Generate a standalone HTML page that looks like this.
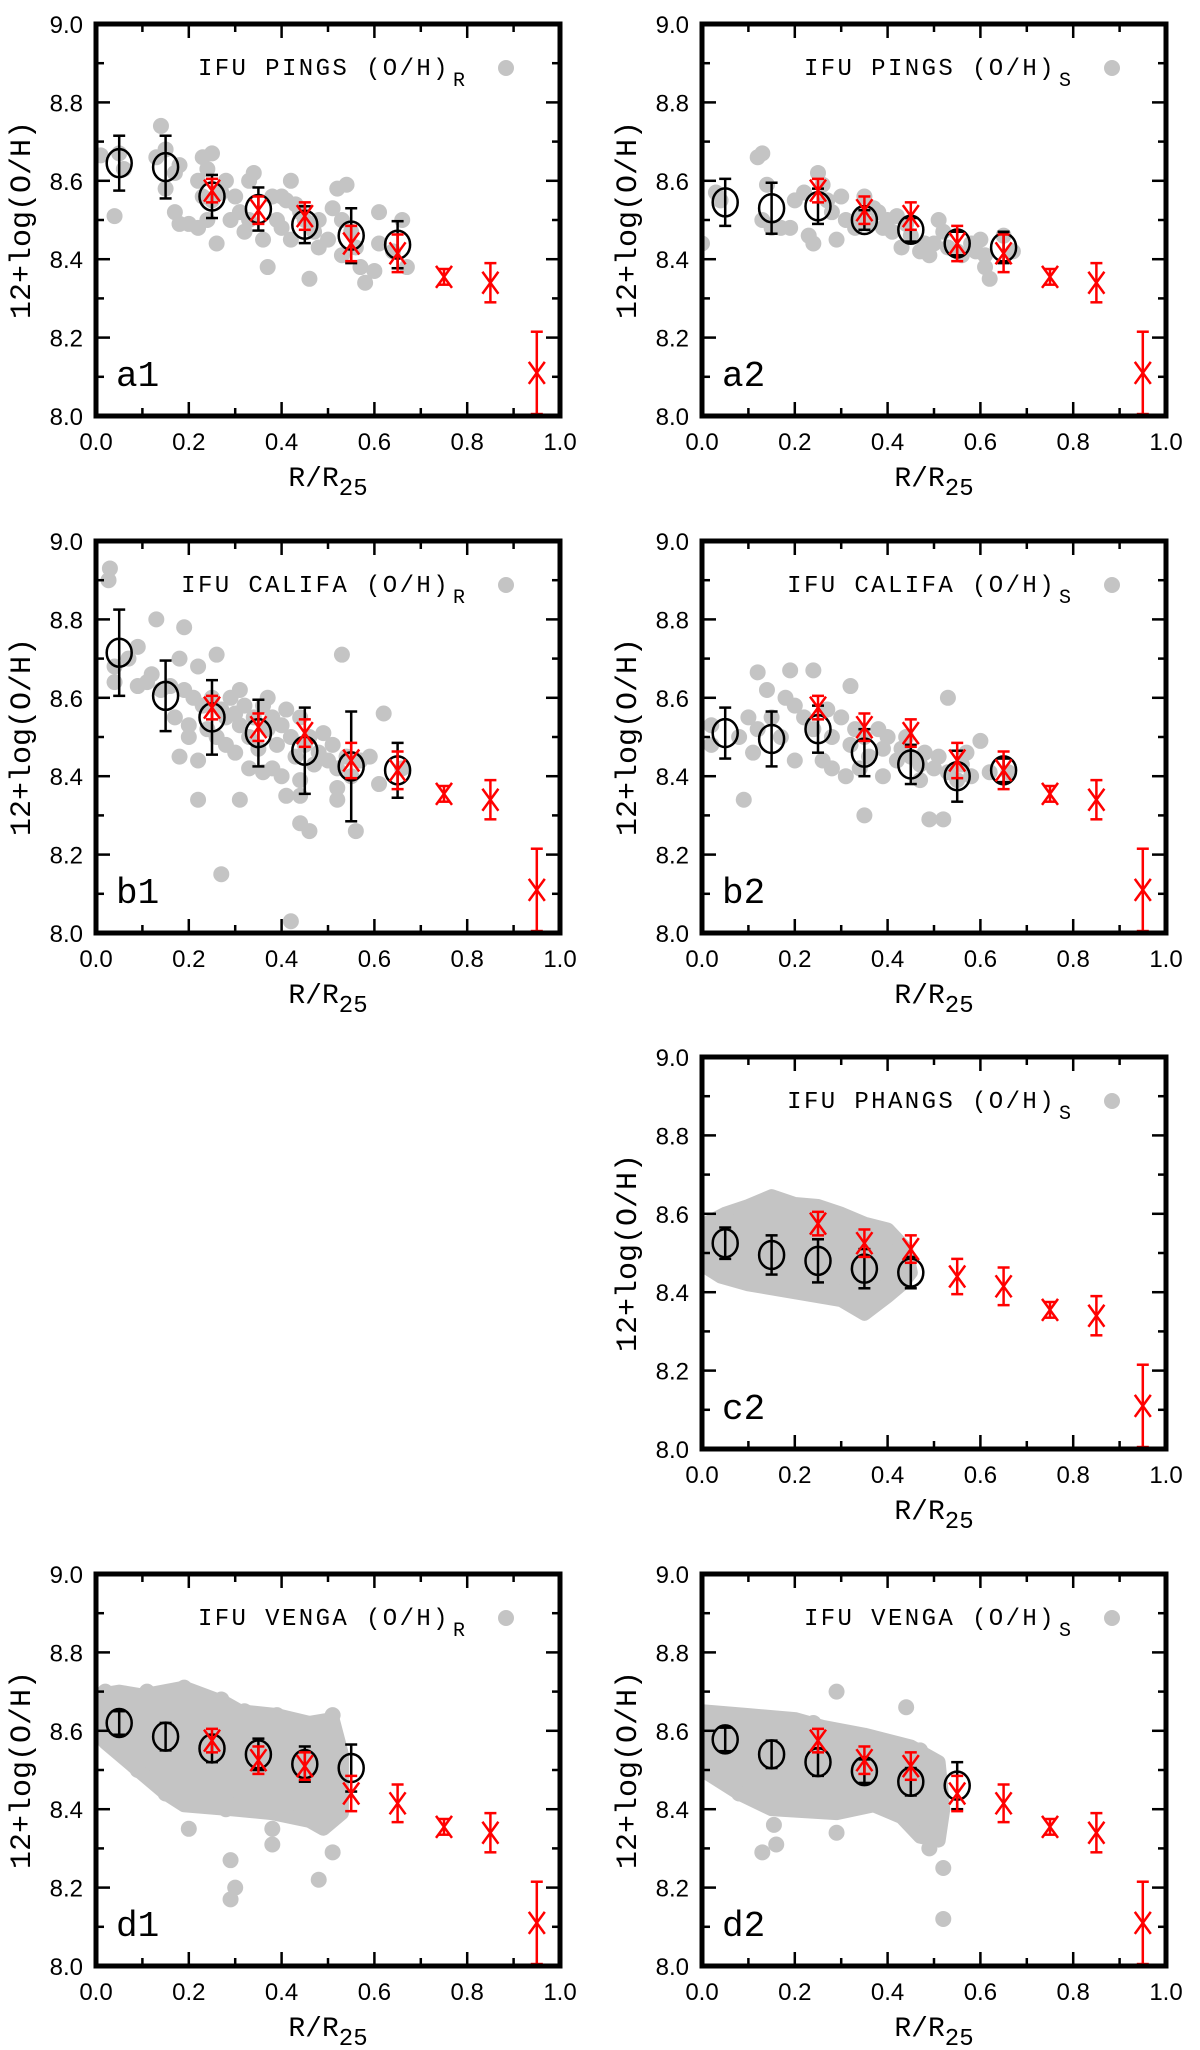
<!DOCTYPE html>
<html><head><meta charset="utf-8">
<style>
html,body{margin:0;padding:0;background:#fff;}
svg{display:block;}
.tick{font-family:"Liberation Sans",sans-serif;font-size:24px;fill:#000;}
.mono{font-family:"Liberation Mono",monospace;fill:#000;}
</style></head>
<body>
<svg id="fig" xmlns="http://www.w3.org/2000/svg" width="1200" height="2050" viewBox="0 0 1200 2050"></svg>
<script>
// ---- data ----
const binX = [0.05,0.15,0.25,0.35,0.45,0.55,0.65];
const refX = [0.25,0.35,0.45,0.55,0.65,0.75,0.85,0.95];
const refY = [8.575,8.525,8.51,8.44,8.415,8.355,8.34,8.11];
const refErr = [0.03,0.035,0.035,0.045,0.048,0.02,0.05,0.105];

const a1Mean=[8.645,8.635,8.56,8.528,8.488,8.46,8.437], a1Err=[0.07,0.08,0.055,0.055,0.047,0.07,0.06];
const a2Mean=[8.545,8.53,8.535,8.50,8.475,8.44,8.43], a2Err=[0.06,0.065,0.045,0.025,0.03,0.03,0.04];
const b1Mean=[8.715,8.605,8.55,8.51,8.465,8.425,8.415], b1Err=[0.11,0.09,0.095,0.085,0.11,0.14,0.07];
const b2Mean=[8.51,8.495,8.52,8.46,8.43,8.40,8.415], b2Err=[0.065,0.07,0.06,0.06,0.05,0.065,0.03];
const c2Mean=[8.525,8.495,8.48,8.46,8.45], c2Err=[0.04,0.05,0.055,0.05,0.04];
const d1Mean=[8.62,8.585,8.555,8.54,8.515,8.505], d1Err=[0.03,0.035,0.035,0.04,0.045,0.06];
const d2Mean=[8.578,8.54,8.52,8.497,8.47,8.46], d2Err=[0.03,0.035,0.035,0.03,0.035,0.06];

const a1Pts=[[0.01,8.665],[0.04,8.51],[0.05,8.67],[0.06,8.63],[0.14,8.74],[0.13,8.66],[0.15,8.68],[0.15,8.58],[0.17,8.62],[0.18,8.64],[0.17,8.52],[0.18,8.49],[0.2,8.49],[0.22,8.6],[0.23,8.66],[0.24,8.63],[0.23,8.56],[0.25,8.55],[0.25,8.67],[0.22,8.48],[0.24,8.5],[0.26,8.44],[0.27,8.57],[0.28,8.6],[0.29,8.5],[0.3,8.56],[0.31,8.52],[0.32,8.47],[0.33,8.6],[0.34,8.62],[0.33,8.5],[0.36,8.45],[0.37,8.38],[0.38,8.56],[0.39,8.5],[0.4,8.56],[0.4,8.48],[0.41,8.55],[0.42,8.6],[0.42,8.45],[0.43,8.54],[0.44,8.52],[0.45,8.5],[0.46,8.35],[0.47,8.47],[0.48,8.43],[0.48,8.5],[0.5,8.45],[0.51,8.53],[0.52,8.58],[0.53,8.41],[0.53,8.5],[0.54,8.59],[0.55,8.47],[0.56,8.43],[0.57,8.38],[0.58,8.34],[0.6,8.37],[0.61,8.52],[0.61,8.44],[0.66,8.5],[0.67,8.38],[0.64,8.42]];
const a2Pts=[[0.0,8.44],[0.03,8.57],[0.04,8.55],[0.12,8.66],[0.13,8.67],[0.14,8.59],[0.13,8.5],[0.15,8.48],[0.17,8.48],[0.19,8.48],[0.2,8.55],[0.22,8.57],[0.23,8.46],[0.24,8.44],[0.25,8.62],[0.26,8.59],[0.27,8.55],[0.28,8.52],[0.29,8.45],[0.3,8.56],[0.31,8.5],[0.33,8.48],[0.34,8.51],[0.35,8.56],[0.36,8.49],[0.37,8.53],[0.38,8.52],[0.39,8.48],[0.4,8.5],[0.41,8.47],[0.42,8.51],[0.43,8.43],[0.44,8.49],[0.45,8.46],[0.47,8.42],[0.48,8.44],[0.49,8.41],[0.5,8.44],[0.51,8.5],[0.52,8.47],[0.53,8.43],[0.55,8.42],[0.56,8.41],[0.58,8.44],[0.59,8.42],[0.6,8.45],[0.61,8.41],[0.61,8.38],[0.62,8.35],[0.65,8.46],[0.67,8.42]];
const b1Pts=[[0.03,8.93],[0.027,8.9],[0.13,8.8],[0.19,8.78],[0.09,8.73],[0.07,8.7],[0.04,8.68],[0.04,8.64],[0.18,8.7],[0.26,8.71],[0.22,8.68],[0.09,8.63],[0.12,8.66],[0.17,8.55],[0.2,8.5],[0.18,8.45],[0.22,8.44],[0.22,8.34],[0.31,8.34],[0.27,8.15],[0.42,8.03],[0.41,8.35],[0.44,8.28],[0.46,8.26],[0.44,8.35],[0.53,8.71],[0.62,8.56],[0.59,8.45],[0.56,8.26],[0.52,8.37],[0.52,8.34],[0.61,8.38],[0.66,8.42],[0.23,8.58],[0.25,8.6],[0.27,8.57],[0.28,8.55],[0.29,8.6],[0.3,8.56],[0.31,8.53],[0.32,8.58],[0.33,8.5],[0.34,8.55],[0.35,8.47],[0.36,8.58],[0.37,8.52],[0.38,8.55],[0.39,8.48],[0.4,8.53],[0.41,8.57],[0.42,8.5],[0.43,8.45],[0.44,8.55],[0.45,8.48],[0.46,8.5],[0.47,8.43],[0.48,8.46],[0.49,8.51],[0.5,8.44],[0.51,8.48],[0.52,8.42],[0.54,8.45],[0.55,8.4],[0.57,8.44],[0.26,8.5],[0.28,8.48],[0.3,8.46],[0.33,8.42],[0.36,8.41],[0.38,8.42],[0.4,8.4],[0.44,8.39],[0.31,8.62],[0.37,8.6],[0.21,8.6],[0.19,8.62],[0.16,8.63],[0.14,8.62],[0.11,8.64],[0.2,8.53],[0.24,8.52]];
const b2Pts=[[0.12,8.665],[0.19,8.67],[0.24,8.67],[0.32,8.63],[0.53,8.6],[0.14,8.62],[0.09,8.34],[0.35,8.3],[0.49,8.29],[0.52,8.29],[0.6,8.49],[0.57,8.46],[0.66,8.41],[0.02,8.53],[0.02,8.48],[0.11,8.46],[0.2,8.44],[0.28,8.42],[0.31,8.4],[0.39,8.4],[0.47,8.39],[0.55,8.39],[0.2,8.58],[0.22,8.55],[0.24,8.52],[0.27,8.57],[0.28,8.5],[0.3,8.55],[0.32,8.48],[0.33,8.52],[0.35,8.5],[0.36,8.45],[0.38,8.52],[0.39,8.47],[0.4,8.5],[0.42,8.44],[0.43,8.47],[0.45,8.45],[0.47,8.43],[0.48,8.46],[0.5,8.42],[0.51,8.45],[0.53,8.41],[0.56,8.43],[0.58,8.4],[0.62,8.41],[0.15,8.55],[0.17,8.5],[0.12,8.52],[0.08,8.5],[0.1,8.55],[0.18,8.6],[0.26,8.44],[0.34,8.42],[0.44,8.5]];
const c2Cloud=[[0.0,8.57],[0.05,8.6],[0.1,8.62],[0.15,8.645],[0.2,8.625],[0.25,8.62],[0.3,8.6],[0.35,8.575],[0.4,8.56],[0.44,8.51],[0.45,8.45],[0.43,8.42],[0.4,8.39],[0.35,8.345],[0.3,8.38],[0.2,8.4],[0.1,8.42],[0.04,8.44],[0.0,8.47]];
const c2Pts=[[0.02,8.55],[0.06,8.58],[0.1,8.6],[0.15,8.63],[0.2,8.6],[0.25,8.6],[0.3,8.58],[0.34,8.56],[0.39,8.55],[0.43,8.5],[0.42,8.44],[0.38,8.41],[0.35,8.35],[0.3,8.4],[0.24,8.4],[0.18,8.41],[0.12,8.43],[0.05,8.44],[0.01,8.47]];
const d1Cloud=[[0.0,8.69],[0.05,8.7],[0.1,8.69],[0.19,8.71],[0.28,8.67],[0.31,8.65],[0.39,8.64],[0.46,8.62],[0.51,8.63],[0.53,8.54],[0.53,8.39],[0.49,8.35],[0.46,8.37],[0.38,8.39],[0.29,8.4],[0.19,8.41],[0.15,8.44],[0.09,8.5],[0.02,8.57],[0.0,8.6]];
const d1Pts=[[0.02,8.7],[0.11,8.7],[0.19,8.71],[0.27,8.68],[0.32,8.65],[0.39,8.64],[0.51,8.64],[0.15,8.44],[0.2,8.35],[0.29,8.27],[0.3,8.2],[0.29,8.17],[0.38,8.35],[0.38,8.31],[0.48,8.22],[0.51,8.29],[0.28,8.4],[0.3,8.41],[0.48,8.36],[0.52,8.4],[0.03,8.57],[0.09,8.5]];
const d2Cloud=[[0.0,8.65],[0.1,8.64],[0.2,8.63],[0.26,8.61],[0.35,8.59],[0.45,8.56],[0.51,8.52],[0.52,8.4],[0.51,8.32],[0.47,8.33],[0.43,8.38],[0.37,8.41],[0.29,8.39],[0.15,8.4],[0.08,8.44],[0.0,8.5]];
const d2Pts=[[0.29,8.7],[0.44,8.66],[0.13,8.29],[0.16,8.31],[0.155,8.36],[0.29,8.34],[0.52,8.25],[0.52,8.12],[0.49,8.3],[0.01,8.64],[0.12,8.63],[0.24,8.62],[0.37,8.58],[0.47,8.55],[0.08,8.44],[0.15,8.41],[0.5,8.34]];

const xTickVals=[0.0,0.2,0.4,0.6,0.8,1.0];
const yTickVals=[8.0,8.2,8.4,8.6,8.8,9.0];

const panels=[
 {id:'a1',left:96,top:24,sub:'R',name:'PINGS',mean:a1Mean,err:a1Err,pts:a1Pts},
 {id:'a2',left:702,top:24,sub:'S',name:'PINGS',mean:a2Mean,err:a2Err,pts:a2Pts},
 {id:'b1',left:96,top:541,sub:'R',name:'CALIFA',mean:b1Mean,err:b1Err,pts:b1Pts},
 {id:'b2',left:702,top:541,sub:'S',name:'CALIFA',mean:b2Mean,err:b2Err,pts:b2Pts},
 {id:'c2',left:702,top:1057,sub:'S',name:'PHANGS',mean:c2Mean,err:c2Err,pts:c2Pts,cloud:c2Cloud},
 {id:'d1',left:96,top:1574,sub:'R',name:'VENGA',mean:d1Mean,err:d1Err,pts:d1Pts,cloud:d1Cloud},
 {id:'d2',left:702,top:1574,sub:'S',name:'VENGA',mean:d2Mean,err:d2Err,pts:d2Pts,cloud:d2Cloud}
];
const W=464,H=392;
const NS='http://www.w3.org/2000/svg';
const svg=document.getElementById('fig');
function mk(tag,attrs,parent){const e=document.createElementNS(NS,tag);for(const k in attrs)e.setAttribute(k,attrs[k]);parent.appendChild(e);return e;}

panels.forEach(p=>{
  const g=mk('g',{},svg);
  
  
  const sx=v=>p.left+v*W;
  const sy=v=>p.top+H-(v-8.0)/1.0*H;
  const clip=mk('clipPath',{id:'clip-'+p.id},g);
  mk('rect',{x:p.left,y:p.top,width:W,height:H},clip);
  const plot=mk('g',{'clip-path':'url(#clip-'+p.id+')'},g);
  if(p.cloud){
    const poly=mk('polygon',{points:p.cloud.map(c=>sx(c[0])+','+sy(c[1])).join(' '),fill:'#c4c4c4',stroke:'#c4c4c4','stroke-width':14,'stroke-linejoin':'round'},plot);
    
    
  }
  p.pts.forEach(pt=>{
    const c=mk('circle',{cx:sx(pt[0]),cy:sy(pt[1]),r:8,fill:'#c4c4c4'},plot);
    
    
  });
  p.mean.forEach((m,i)=>{
    const x=sx(binX[i]),y=sy(m),t=sy(m+p.err[i]),b=sy(m-p.err[i]);
    const eg=mk('g',{stroke:'#000','stroke-width':2.5,fill:'none'},plot);
    
    
    mk('line',{x1:x,y1:t,x2:x,y2:b},eg);
    mk('line',{x1:x-6,y1:t,x2:x+6,y2:t},eg);
    mk('line',{x1:x-6,y1:b,x2:x+6,y2:b},eg);
    mk('ellipse',{cx:x,cy:y,rx:12.5,ry:14},eg);
  });
  refX.forEach((rx,i)=>{
    const x=sx(rx),y=sy(refY[i]),t=sy(refY[i]+refErr[i]),b=sy(refY[i]-refErr[i]);
    const rg=mk('g',{stroke:'#f00','stroke-width':2.5,fill:'none'},plot);
    
    
    mk('line',{x1:x,y1:t,x2:x,y2:b},rg);
    mk('line',{x1:x-6,y1:t,x2:x+6,y2:t},rg);
    mk('line',{x1:x-6,y1:b,x2:x+6,y2:b},rg);
    mk('line',{x1:x-8,y1:y-11,x2:x+8,y2:y+11},rg);
    mk('line',{x1:x-8,y1:y+11,x2:x+8,y2:y-11},rg);
  });
  const tg=mk('g',{stroke:'#000','stroke-width':2.5},g);
  for(let k=0;k<=10;k++){
    const v=k/10, x=sx(v), len=(k%2===0)?14:8;
    mk('line',{x1:x,y1:p.top+H,x2:x,y2:p.top+H-len},tg);
    mk('line',{x1:x,y1:p.top,x2:x,y2:p.top+len},tg);
    const yv=8+k/10, y=sy(yv);
    mk('line',{x1:p.left,y1:y,x2:p.left+len,y2:y},tg);
    mk('line',{x1:p.left+W,y1:y,x2:p.left+W-len,y2:y},tg);
  }
  const fr=mk('rect',{x:p.left,y:p.top,width:W,height:H,fill:'none',stroke:'#000','stroke-width':5},g);
  
  
  xTickVals.forEach(v=>{
    const t=mk('text',{x:sx(v),y:p.top+H+34,'text-anchor':'middle',class:'tick'},g);
    t.textContent=v.toFixed(1);
    
    
  });
  yTickVals.forEach(v=>{
    const t=mk('text',{x:p.left-13,y:sy(v)+9,'text-anchor':'end',class:'tick'},g);
    t.textContent=v.toFixed(1);
    
    
  });
  const xt=mk('text',{x:p.left+W/2,y:p.top+H+70,'text-anchor':'middle',class:'mono','font-size':28},g);
  
  
  xt.appendChild(document.createTextNode('R/R'));
  const xs=mk('tspan',{'font-size':24,dy:9},xt); xs.textContent='25';
  const cy=p.top+H/2;
  const yt=mk('text',{x:p.left-66,y:cy,transform:'rotate(-90 '+(p.left-66)+' '+cy+')','text-anchor':'middle',class:'mono','font-size':30},g);
  yt.textContent='12+log(O/H)';
  
  
  const lg=mk('text',{x:p.left+354,y:p.top+51,'text-anchor':'end',class:'mono','font-size':24,'letter-spacing':2.4},g);
  lg.textContent='IFU '+p.name+' (O/H)';
  
  
  const ls=mk('text',{x:p.left+357,y:p.top+62,class:'mono','font-size':20},g);
  ls.textContent=p.sub;
  
  
  const ld=mk('circle',{cx:p.left+410,cy:p.top+44,r:8,fill:'#c4c4c4'},g);
  
  
  const pl=mk('text',{x:p.left+20,y:p.top+H-30,class:'mono','font-size':36},g);
  pl.textContent=p.id;
  
  
});
</script>
</body></html>
